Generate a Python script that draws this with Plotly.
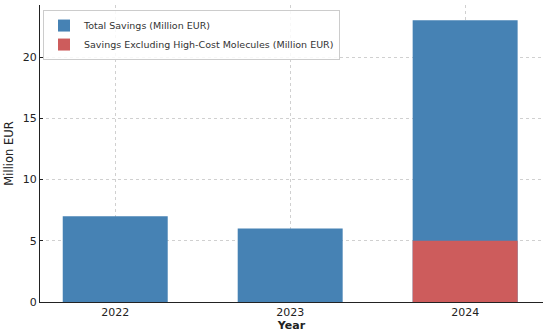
import plotly.graph_objects as go

years = ["2022", "2023", "2024"]
total_savings = [7, 6, 23]
excl_high_cost = [None, None, 5]

fig = go.Figure()
fig.add_trace(go.Bar(x=years, y=total_savings, name="Total Savings (Million EUR)",
                     marker=dict(color="#4682B4", line=dict(width=0)), width=0.6))
fig.add_trace(go.Bar(x=years, y=excl_high_cost, name="Savings Excluding High-Cost Molecules (Million EUR)",
                     marker=dict(color="#CD5C5C", line=dict(width=0)), width=0.6))

fig.update_layout(
    width=550, height=336,
    barmode="overlay",
    plot_bgcolor="white", paper_bgcolor="white",
    font=dict(family="DejaVu Sans", size=11, color="#222"),
    margin=dict(l=40, r=7, t=5, b=34),
    legend=dict(x=0.006, y=0.983, xanchor="left", yanchor="top",
                bgcolor="rgba(255,255,255,0.85)", bordercolor="#ccc", borderwidth=1,
                font=dict(size=9.5, color="#333"), tracegroupgap=0, itemwidth=30),
    xaxis=dict(title=dict(text="<b>Year</b>", font=dict(size=11), standoff=2),
               range=[-0.43, 2.445], showline=True, linecolor="#222", linewidth=1.2,
               showgrid=True, gridcolor="#d0d0d0", griddash="dot", gridwidth=1,
               ticks="", layer="above traces", tickfont=dict(size=11), automargin=False),
    yaxis=dict(title=dict(text="Million EUR", font=dict(size=11.5), standoff=6),
               range=[0, 24.25], tickvals=[0, 5, 10, 15, 20],
               showline=True, linecolor="#222", linewidth=1.2,
               showgrid=True, gridcolor="#d0d0d0", griddash="dot", gridwidth=1,
               ticks="inside", ticklen=3, tickcolor="#222", zeroline=False,
               layer="above traces", tickfont=dict(size=11), automargin=False),
)

fig.write_html("out.html", config={"displayModeBar": False},
               post_script="document.body.style.margin='0';document.body.style.overflow='hidden';")
